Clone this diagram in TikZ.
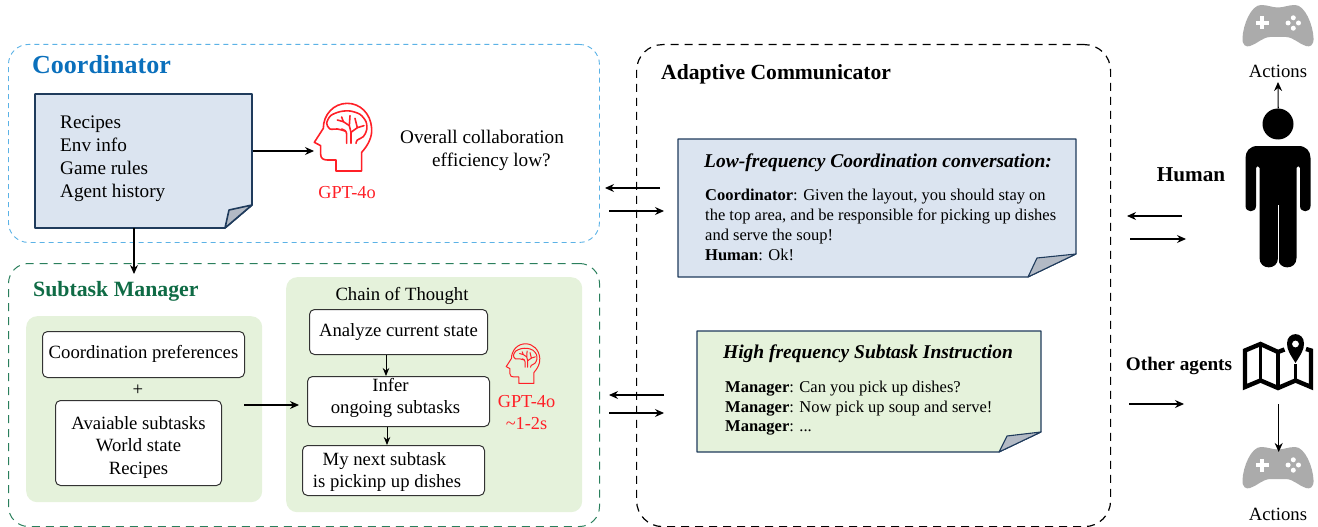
\documentclass[tikz,border=0pt]{standalone}
\usepackage{fontspec}
\setmainfont{Liberation Serif}
\usetikzlibrary{arrows.meta}
\definecolor{cblue}{HTML}{0B70BC}
\definecolor{cdash}{HTML}{5BB2E6}
\definecolor{cgreen}{HTML}{0F6B45}
\definecolor{gdash}{HTML}{2A7F5C}
\definecolor{notefill}{HTML}{DBE4F0}
\definecolor{greenfill}{HTML}{E5F2DB}
\definecolor{notestroke}{HTML}{1F3B5C}
\definecolor{foldfill}{HTML}{B3BAC5}
\definecolor{padgray}{HTML}{ABABAB}
\definecolor{brainred}{HTML}{FF2027}
\tikzset{
  conn/.style={-{Stealth[length=9pt,width=8pt]},line width=1.1pt,black},
  txt/.style={font=\fontsize{18.7}{23}\selectfont,inner sep=0pt,align=center},
  ltxt/.style={font=\fontsize{19.2}{23}\selectfont,inner sep=0pt,align=left,anchor=west},
  chat/.style={font=\fontsize{16.5}{20}\selectfont,inner sep=0pt,align=left,anchor=north west},
  chattitle/.style={font=\fontsize{19.5}{22}\selectfont\bfseries\itshape,inner sep=0pt},
  redtxt/.style={font=\fontsize{18.3}{22}\selectfont,inner sep=0pt,align=center,text=brainred},
  head/.style={font=\fontsize{21.6}{24}\selectfont\bfseries,inner sep=0pt,anchor=west},
  whitebox/.style={draw=black!80,fill=white,line width=1pt,rounded corners=5pt,inner sep=0pt,anchor=north west},
  boxtext/.style={inner sep=0pt,align=center,font=\fontsize{18.7}{22.5}\selectfont},
  panel/.style={fill=greenfill,draw=none,rounded corners=11pt,inner sep=0pt,anchor=north west},
  region/.style={rounded corners=20pt,inner sep=0pt,anchor=north west,fill=none},
  slot/.style={inner sep=0pt,draw=none,anchor=north west},
}
\newcommand\foldnote[9]{%
  \path[draw=notestroke,fill=#9,line width=\notelw,line join=round] (#1,#2) -- (#3,#2) -- (#3,#6) -- (#5,#4) -- (#1,#4) -- cycle;
  \path[draw=notestroke,fill=foldfill,line width=\notelw,line join=round] (#3,#6) -- (#7,#8) -- (#5,#4) -- cycle;
}
\newcommand\notelw{1pt}
\newcommand\brainicon[4]{%
  \begin{scope}[shift={(#1,#2)},scale=#3,draw=brainred,line width=#4,line join=round,line cap=round]
    \draw (108,228) -- (185,228) -- (185,172) .. controls (205,150) and (217,125) .. (215,100)
      .. controls (212,55) and (180,25) .. (142,25) .. controls (100,25) and (70,60) .. (70,100)
      -- (43,142) -- (62,152) -- (62,178) .. controls (62,190) and (70,195) .. (82,195) -- (108,195) -- cycle;
    \draw plot[smooth] coordinates {(135,108) (112,102) (90,102) (80,85) (92,62) (120,50) (150,48) (180,58) (198,80) (200,105) (190,125) (172,135) (168,145)};
    \draw (140,145) -- (140,118) .. controls (140,108) and (132,103) .. (125,102);
    \draw (153,145) -- (153,112) -- (148,92) -- (130,80) -- (112,75);
    \draw (148,92) -- (150,62);
    \draw (153,112) -- (172,98) -- (165,70);
    \draw (172,98) -- (192,92);
    \draw (130,80) -- (125,66);
  \end{scope}%
}
\newcommand\padicon[2]{%
  \begin{scope}[shift={(#1,#2)}]
    \fill[padgray] (0,2.5) .. controls (6,2.5) and (10,0) .. (17,0) .. controls (27,0) and (35,20) .. (35.5,33)
      .. controls (36,40) and (32,42.5) .. (28,41) .. controls (21,39) and (16,32.5) .. (8,32) -- (-8,32)
      .. controls (-16,32.5) and (-21,39) .. (-28,41) .. controls (-32,42.5) and (-36,40) .. (-35.5,33)
      .. controls (-35,20) and (-27,0) .. (-17,0) .. controls (-10,0) and (-6,2.5) .. (0,2.5) -- cycle;
    \fill[white] (-18.2,11.5) rectangle (-13.8,24.5);
    \fill[white] (-22.5,15.8) rectangle (-9.5,20.2);
    \foreach \a/\b in {15.3/12.8,15.3/23.2,10.1/18,20.5/18} \fill[white] (\a,\b) circle (2.5);
  \end{scope}%
}
\begin{document}
\begin{tikzpicture}[x=1pt,y=-1pt]
\useasboundingbox (0,0) rectangle (1318,527);

% regions
\node[region,draw=cdash,line width=.9pt,dash pattern=on 5pt off 4pt,minimum width=591pt,minimum height=198pt] (coordregion) at (8,44) {};
\node[region,draw=gdash,line width=1pt,dash pattern=on 8pt off 6pt,minimum width=591pt,minimum height=263pt] (subregion) at (8,263) {};
\node[region,draw=black,line width=1.2pt,dash pattern=on 8pt off 6pt,rounded corners=26pt,minimum width=474pt,minimum height=482pt] (adaptregion) at (636,44) {};

\node[head,font=\fontsize{26}{30}\selectfont\bfseries,text=cblue] (coordtitle) at (32,65) {Coordinator};
\node[head,font=\fontsize{21.8}{26}\selectfont\bfseries,text=cgreen] (subtitle) at (33,291) {Subtask Manager};
\node[head] (adapttitle) at (661,74) {Adaptive Communicator};

% coordinator
\renewcommand\notelw{1.6pt}
\foldnote{35}{94}{252}{228}{225}{205}{229}{210}{notefill}
\node[slot,minimum width=217pt,minimum height=134pt] (coordnote) at (35,94) {};
\node[ltxt] (coordtext) at (60,158.5) {Recipes\\Env info\\Game rules\\Agent history};
\brainicon{300}{95}{.3333}{1.6pt}
\node[slot,minimum width=58pt,minimum height=70pt] (bigbrain) at (314,102) {};
\node[redtxt] (gptone) at (347,193) {GPT-4o};
\node[ltxt] (overall) at (400,150.5) {Overall collaboration\\\hspace*{32pt}efficiency low?};
\draw[conn] (253,151) -- (bigbrain.west |- 0,151);
\coordinate (subin) at (134,274);
\draw[conn] (coordnote.south -| 134,0) -- (subin);

% subtask manager
\node[panel,minimum width=236pt,minimum height=186pt] (leftpanel) at (26,316) {};
\node[panel,minimum width=296pt,minimum height=235pt] (rightpanel) at (286,277) {};
\node[whitebox,minimum width=202pt,minimum height=46pt,label={[boxtext,yshift=1pt]center:Coordination preferences}] (prefs) at (42,331) {};
\node[txt] (plus) at (138,390) {+};
\node[whitebox,minimum width=166pt,minimum height=85pt,label={[boxtext,yshift=-4pt]center:{Avaiable subtasks\\World state\\Recipes}}] (avail) at (55,400) {};
\node[txt] (chain) at (402,296) {Chain of Thought};
\node[whitebox,minimum width=178pt,minimum height=45pt,label={[boxtext]center:Analyze current state}] (analyze) at (309,309) {};
\node[whitebox,minimum width=182pt,minimum height=50pt,label={[boxtext,yshift=3.5pt]center:{Infer\hspace*{16pt}\\ongoing subtasks\hspace*{6pt}}}] (infer) at (307,376) {};
\node[whitebox,minimum width=182pt,minimum height=50pt,label={[boxtext,yshift=-1.5pt]center:{My next subtask\hspace*{18pt}\\is pickinp up dishes\hspace*{13pt}}}] (next) at (302,445) {};
\brainicon{497.8}{338.9}{.1953}{1pt}
\node[redtxt] (gpttwo) at (526.5,413) {GPT-4o\\\textasciitilde1-2s};
\coordinate (availout) at (244,405);
\coordinate (chainin) at (299,405);
\draw[conn] (availout) -- (chainin);
\draw[conn,line width=.9pt,-{Stealth[length=8pt,width=6.5pt]}] (analyze.south -| 386,0) -- (infer.north -| 386,0);
\draw[conn,line width=.9pt,-{Stealth[length=8pt,width=6.5pt]}] (infer.south -| 387,0) -- (next.north -| 387,0);

% notes
\renewcommand\notelw{1.1pt}
\foldnote{678}{139}{1076}{277}{1028}{254}{1037}{258}{notefill}
\node[slot,minimum width=398pt,minimum height=138pt] (lownote) at (678,139) {};
\node[chattitle] (lowtitle) at (878,163) {Low-frequency Coordination conversation:};
\node[chat] (lowtext) at (705,189) {\textbf{Coordinator}: Given the layout, you should stay on\\the top area, and be responsible for picking up dishes\\and serve the soup!\\\textbf{Human}: Ok!};
\foldnote{697}{331}{1041}{452}{999}{432}{1007}{436}{greenfill}
\node[slot,minimum width=344pt,minimum height=121pt] (highnote) at (697,331) {};
\node[chattitle] (hightitle) at (868,354) {High frequency Subtask Instruction};
\node[chat,font=\fontsize{16.5}{19.5}\selectfont] (hightext) at (725,381) {\textbf{Manager}: Can you pick up dishes?\\\textbf{Manager}: Now pick up soup and serve!\\\textbf{Manager}: ...};

% arrows around the communicator
\coordinate (a1s) at (660,188); \coordinate (a1e) at (605,188);
\coordinate (a2s) at (609,211); \coordinate (a2e) at (664,211);
\coordinate (a3s) at (664,395); \coordinate (a3e) at (609,395);
\coordinate (a4s) at (609,413); \coordinate (a4e) at (664,413);
\coordinate (a5s) at (1182,216); \coordinate (a5e) at (1127,216);
\coordinate (a6s) at (1130,239); \coordinate (a6e) at (1186,239);
\coordinate (a7s) at (1129,404); \coordinate (a7e) at (1184,404);
\foreach \s/\e in {a1s/a1e,a2s/a2e,a3s/a3e,a4s/a4e,a5s/a5e,a6s/a6e,a7s/a7e} \draw[conn] (\s) -- (\e);

% right column
\node[head,anchor=center,font=\fontsize{21.2}{24}\selectfont\bfseries] (human) at (1191,175) {Human};
\node[head,font=\fontsize{19.2}{22}\selectfont\bfseries,anchor=center] (other) at (1179,366) {Other agents};
\padicon{1278}{5}
\node[slot,minimum width=71pt,minimum height=42pt] (padtop) at (1243,5) {};
\node[txt] (acttop) at (1278,71) {Actions};
\padicon{1278}{447}
\node[slot,minimum width=71pt,minimum height=42pt] (padlow) at (1243,447) {};
\node[txt] (actlow) at (1278,514.5) {Actions};
% person
\fill[black] (1278,124) circle (15.5);
\node[slot,minimum width=31pt,minimum height=31pt] (persontop) at (1262.5,108.5) {};
\begin{scope}[shift={(1278,146)}]
\fill[black] (-20.5,0) -- (20.5,0) .. controls (28,0) and (32.5,5) .. (32.5,12) -- (32.5,60)
  .. controls (32.5,67) and (22,67) .. (22,60) -- (22,22) .. controls (22,19.5) and (18.5,19.5) .. (18.5,22)
  -- (18.5,112) .. controls (18.5,124.5) and (0,124.5) .. (0,112)
  .. controls (0,124.5) and (-18.5,124.5) .. (-18.5,112) -- (-18.5,22)
  .. controls (-18.5,19.5) and (-22,19.5) .. (-22,22) -- (-22,60)
  .. controls (-22,67) and (-32.5,67) .. (-32.5,60) -- (-32.5,12) .. controls (-32.5,5) and (-28,0) .. (-20.5,0) -- cycle;
\draw[white,line width=.8pt] (0,59) -- (0,121);
\end{scope}
% map
\begin{scope}[shift={(1278,334)},line join=miter]
\draw[black,line width=4.4pt] (6.5,15.5) -- (0,18) -- (-17.5,10) -- (-33,16.5) -- (-33,53) -- (-17.5,46.5) -- (0,54) -- (17.5,46.5) -- (33,53) -- (33,16.5) -- (28,15);
\draw[black,line width=3.4pt] (-17.5,10) -- (-17.5,47) (0,18) -- (0,54) (17.5,30) -- (17.5,47);
\fill[black] (17.5,29) .. controls (12,20) and (9,16) .. (9,9.5) .. controls (9,-3) and (26,-3) .. (26,9.5) .. controls (26,16) and (23,20) .. (17.5,29) -- cycle;
\fill[white] (17.5,10) circle (3.4);
\end{scope}
\node[slot,minimum width=71pt,minimum height=57pt] (mapicon) at (1243,334) {};
\draw[conn] (persontop.north) -- (1278,82);
\draw[conn] (mapicon.south |- 0,404) -- (padlow.north |- 0,452);
\end{tikzpicture}
\end{document}
